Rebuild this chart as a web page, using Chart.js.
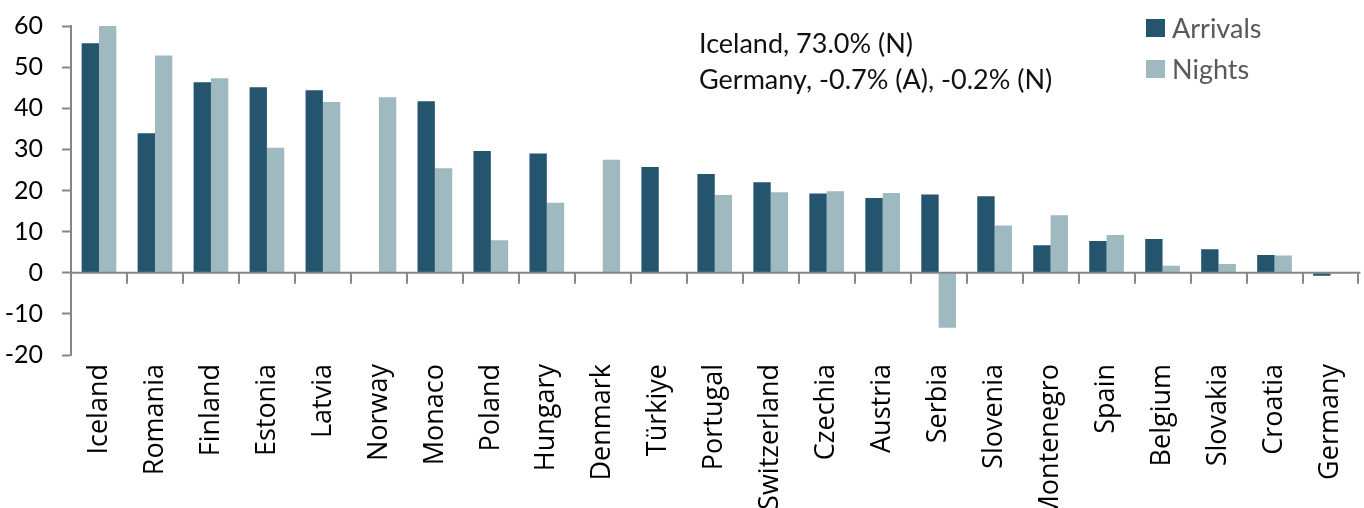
<!DOCTYPE html>
<html>
<head>
<meta charset="utf-8">
<title>Arrivals and nights</title>
<script src="https://cdn.jsdelivr.net/npm/chart.js@4/dist/chart.umd.min.js"></script>
<style>
    html, body {
        margin: 0;
        padding: 0;
        background: #ffffff;
    }
    #chartWrap {
        width: 1364px;
        height: 508px;
    }
</style>
</head>
<body>
<div id="chartWrap">
    <canvas id="mainChart" width="1364" height="508"></canvas>
</div>
<script>
// Chart data
const categories = [
    'Iceland', 'Romania', 'Finland', 'Estonia', 'Latvia', 'Norway', 'Monaco',
    'Poland', 'Hungary', 'Denmark', 'Türkiye', 'Portugal', 'Switzerland',
    'Czechia', 'Austria', 'Serbia', 'Slovenia', 'Montenegro', 'Spain',
    'Belgium', 'Slovakia', 'Croatia', 'Germany'
];
const arrivals = [
    55.8, 33.9, 46.3, 45.1, 44.4, null, 41.7, 29.6, 29.0, null, 25.7, 24.0, 22.0,
    19.3, 18.2, 19.0, 18.6, 6.7, 7.7, 8.2, 5.7, 4.3, -0.7
];
const nights = [
    73.0, 52.8, 47.3, 30.4, 41.5, 42.7, 25.4, 7.9, 17.0, 27.5, null, 18.9, 19.6,
    19.8, 19.4, -13.4, 11.5, 14.0, 9.2, 1.7, 2.1, 4.2, -0.2
];
const seriesNames = ['Arrivals', 'Nights'];
const noteLines = ['Iceland, 73.0% (N)', 'Germany, -0.7% (A), -0.2% (N)'];
const yMin = -20;
const yMax = 60;
const yStep = 10;

// Colours
const darkBlue = '#24546e';
const lightBlue = '#9eb9c0';
const axisGray = '#868686';

// Zero line with category tick marks (the x axis sits at 0)
const zeroAxisPlugin = {
    id: 'zeroAxis',
    afterDatasetsDraw(chart) {
        const ctx = chart.ctx;
        const x = chart.scales.x;
        const y = chart.scales.y;
        const area = chart.chartArea;
        const zeroY = y.getPixelForValue(0);
        const half = (x.getPixelForValue(1) - x.getPixelForValue(0)) / 2;

        ctx.save();
        ctx.strokeStyle = axisGray;
        ctx.lineWidth = 2;
        ctx.beginPath();
        ctx.moveTo(area.left, zeroY);
        ctx.lineTo(area.right + 2, zeroY);
        for (let i = 0; i <= categories.length; i++) {
            const bx = Math.round(x.getPixelForValue(i) - half);
            ctx.moveTo(bx, zeroY);
            ctx.lineTo(bx, zeroY + 11);
        }
        ctx.stroke();
        ctx.restore();
    }
};

// Legend and note text in the upper right
const notesPlugin = {
    id: 'notes',
    afterDraw(chart) {
        const ctx = chart.ctx;
        ctx.save();
        ctx.font = '27px Lato';
        ctx.textBaseline = 'alphabetic';
        ctx.textAlign = 'left';

        // note text
        ctx.fillStyle = '#111111';
        ctx.fillText(noteLines[0], 699, 53);
        ctx.fillText(noteLines[1], 699, 89);

        // legend
        const colors = [darkBlue, lightBlue];
        const boxY = [19, 60];
        seriesNames.forEach((name, i) => {
            ctx.fillStyle = colors[i];
            ctx.fillRect(1146, boxY[i], 19, 18);
            ctx.fillStyle = '#595959';
            ctx.fillText(name, 1172, boxY[i] + 19);
        });
        ctx.restore();
    }
};

const ctx = document.getElementById('mainChart');

new Chart(ctx, {
    type: 'bar',
    data: {
        labels: categories,
        datasets: [
            {
                label: seriesNames[0],
                data: arrivals,
                backgroundColor: darkBlue,
                borderWidth: 0,
                clip: 0
            },
            {
                label: seriesNames[1],
                data: nights,
                backgroundColor: lightBlue,
                borderWidth: 0,
                clip: 0
            }
        ]
    },
    options: {
        responsive: false,
        animation: false,
        categoryPercentage: 0.62,
        barPercentage: 1.0,
        layout: {
            padding: { top: 26, right: 5, left: 0, bottom: 0 }
        },
        plugins: {
            legend: { display: false },
            tooltip: { enabled: false }
        },
        scales: {
            x: {
                offset: true,
                grid: { display: false },
                border: { display: false },
                ticks: {
                    autoSkip: false,
                    minRotation: 90,
                    maxRotation: 90,
                    padding: 1,
                    color: '#000000',
                    font: { family: 'Open Sans', size: 27 }
                },
                afterFit(scale) {
                    scale.height = 153;
                }
            },
            y: {
                min: yMin,
                max: yMax,
                grid: {
                    drawOnChartArea: false,
                    drawTicks: true,
                    tickLength: 9,
                    tickWidth: 2,
                    tickColor: axisGray
                },
                border: { display: true, color: axisGray, width: 2 },
                ticks: {
                    stepSize: yStep,
                    padding: 19,
                    color: '#000000',
                    font: { family: 'Lato', size: 25 }
                },
                afterFit(scale) {
                    // fixed width, and let the layout padding decide the top
                    scale.width = 71;
                    scale.paddingTop = 0;
                    scale.paddingBottom = 0;
                }
            }
        }
    },
    plugins: [zeroAxisPlugin, notesPlugin]
});
</script>
</body>
</html>
